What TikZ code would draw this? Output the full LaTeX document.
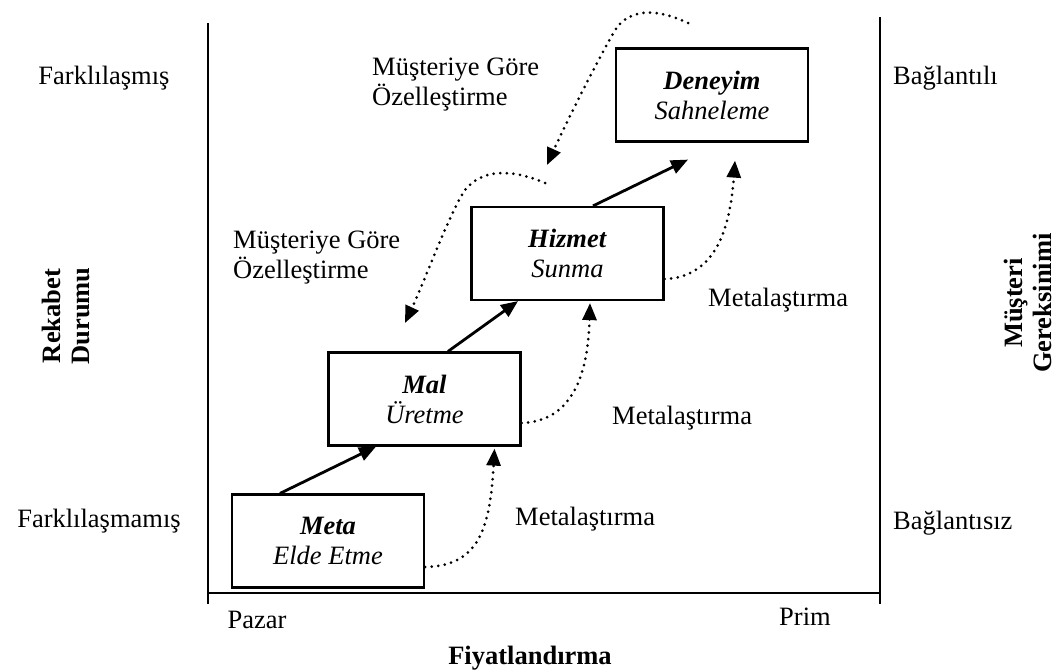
\documentclass[tikz,border=0pt]{standalone}
\usepackage{fontspec}
\setmainfont{Liberation Serif}
\usetikzlibrary{arrows.meta,calc}
\begin{document}
\begin{tikzpicture}[x=1pt,y=-1pt,
  every node/.style={font=\fontsize{26.5}{30}\selectfont, inner sep=0pt},
  stage/.style={draw, line width=2.2pt, minimum width=192pt, minimum height=93pt, align=center},
  axis/.style={line width=2.4pt},
  flow/.style={line width=2.8pt, -{Triangle[length=17pt,width=14pt]}},
  dotflow/.style={line width=3pt, line cap=round, dash pattern=on 0pt off 6.6pt,
                  -{Triangle[length=17pt,width=14pt]}},
  axislabel/.style={font=\fontsize{26.5}{29}\selectfont\bfseries, align=center},
  note/.style={align=left, anchor=west}]
\useasboundingbox (0,0) rectangle (1059,670);

% axes
\coordinate (lt) at (208,23);
\coordinate (lb) at (208,604);
\coordinate (ol) at (208,593);
\coordinate (or) at (880,593);
\coordinate (rt) at (880,17);
\coordinate (rg1) at (880,272);
\coordinate (rg2) at (880,347);
\coordinate (rb) at (880,604);
\draw[axis] (lt) -- (lb);
\draw[axis] (ol) -- (or);
\draw[axis] (rt) -- (rg1);
\draw[line width=1.1pt] (rg1) -- (rg2);
\draw[axis] (rg2) -- (rb);

% stages
\node[stage] (meta)    at (328,541)     {\textbf{\textit{Meta}}\\\textit{Elde Etme}};
\node[stage] (mal)     at (424.5,399)   {\textbf{\textit{Mal}}\\\textit{Üretme}};
\node[stage] (hizmet)  at (567.5,253.5) {\textbf{\textit{Hizmet}}\\\textit{Sunma}};
\node[stage] (deneyim) at (712,95)      {\textbf{\textit{Deneyim}}\\\textit{Sahneleme}};

% progression arrows
\draw[flow] ($(meta.north)+(-48,0)$) -- ($(mal.south)+(-48.5,0)$);
\draw[flow] ($(mal.north)+(23.5,0)$) -- ($(hizmet.south)+(-49.5,0)$);
\draw[flow] ($(hizmet.north)+(25.5,0)$) -- ($(deneyim.south)+(-24,17)$);

% commoditisation paths
\draw[dotflow] ($(meta.east)+(0,26)$) .. controls (478,566) and (490,530) .. ($(mal.south)+(70,2)$);
\draw[dotflow] ($(mal.east)+(0,24)$) .. controls (575,421) and (588,370) .. ($(hizmet.south)+(22.5,2)$);
\draw[dotflow] ($(hizmet.east)+(0,25.5)$) .. controls (715,277) and (730,230) .. ($(deneyim.south)+(23,18)$);

% customisation paths
\coordinate (cu1s) at (688,23);
\coordinate (cu1e) at (547,165);
\coordinate (cu2s) at (545,183);
\coordinate (cu2e) at (405,323);
\draw[dotflow] (cu1s) .. controls (665,12) and (635,5) .. (617,27)
                      .. controls (600,55) and (565,125) .. (cu1e);
\draw[dotflow] (cu2s) .. controls (520,172) and (485,165) .. (465,190)
                      .. controls (450,212) and (425,280) .. (cu2e);

% labels
\node[note] (cust1) at (372,85)  {Müşteriye Göre\\Özelleştirme};
\node[note] (cust2) at (233,258) {Müşteriye Göre\\Özelleştirme};
\node[note] (com1)  at (708,300) {Metalaştırma};
\node[note] (com2)  at (612,418) {Metalaştırma};
\node[note] (com3)  at (515,519) {Metalaştırma};

\node (diff)   at (104,78)  {Farklılaşmış};
\node (undiff) at (99,521)  {Farklılaşmamış};
\node[anchor=west] (conn)   at (893,78)  {Bağlantılı};
\node[anchor=west] (unconn) at (893,523) {Bağlantısız};
\node (pazar) at (257,620) {Pazar};
\node (prim)  at (805,617) {Prim};

\node[axislabel] (price) at (530,658) {Fiyatlandırma};
\node[axislabel, rotate=90] (comp) at (66,316)  {Rekabet\\Durumu};
\node[axislabel, rotate=90] (need) at (1028,303) {Müşteri\\Gereksinimi};
\end{tikzpicture}
\end{document}
